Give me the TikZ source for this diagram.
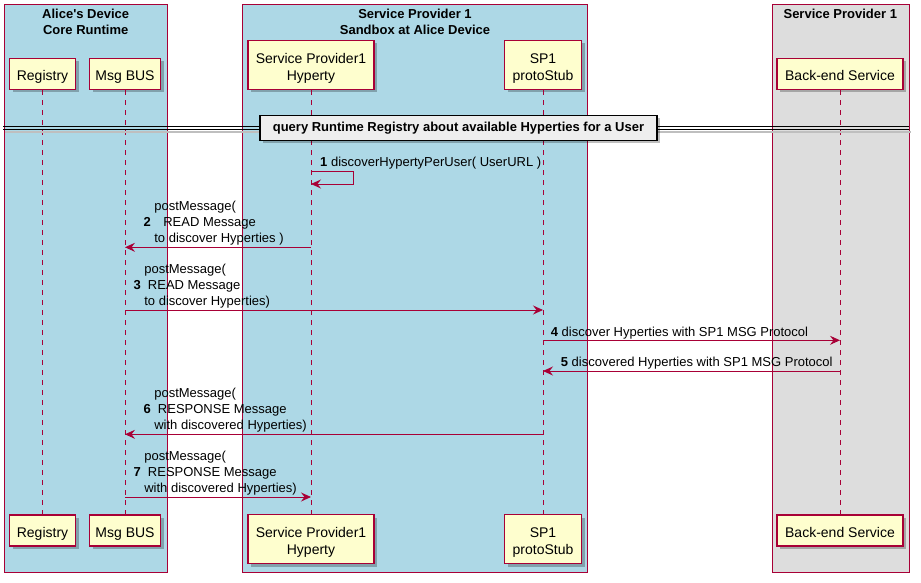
\documentclass[tikz,border=0pt]{standalone}
\usepackage{fontspec}
\setmainfont{Liberation Sans}
\usetikzlibrary{arrows.meta,shadows}
\definecolor{umlred}{HTML}{A80036}
\definecolor{umlyellow}{HTML}{FEFECE}
\definecolor{boxblue}{HTML}{ADD8E6}
\definecolor{boxgray}{HTML}{DDDDDD}
\definecolor{divgray}{HTML}{EEEEEE}

\begin{document}
\begin{tikzpicture}[x=1pt,y=-1pt,
    part/.style={draw=umlred,line width=1.2pt,fill=umlyellow,align=center,inner sep=0pt,
        font=\fontsize{14}{16.7}\selectfont,
        drop shadow={shadow xshift=3pt,shadow yshift=-3pt,fill=black,opacity=0.25}},
    grp/.style={draw=umlred,line width=0.8pt},
    ttl/.style={anchor=north,inner sep=0pt,align=center,font=\bfseries\fontsize{13}{16.3}\selectfont},
    life/.style={draw=umlred,line width=0.8pt,dash pattern=on 5pt off 5pt},
    msg/.style={draw=umlred,line width=0.9pt,-{Stealth[length=10pt,width=9pt,inset=3.5pt]}},
    lbl/.style={inner sep=0pt,align=left,font=\fontsize{13}{16}\selectfont},
    divbox/.style={draw=black,line width=1.2pt,fill=divgray,minimum width=397pt,minimum height=25pt,
        font=\bfseries\fontsize{13}{16}\selectfont,
        drop shadow={shadow xshift=3pt,shadow yshift=-3pt,fill=black,opacity=0.25}}]
    \useasboundingbox (0,0) rectangle (921,583);

    \draw[grp,fill=boxblue] (4,4) rectangle (167,572);
    \draw[grp,fill=boxblue] (242,4) rectangle (587.5,572);
    \draw[grp,fill=boxgray] (772,4) rectangle (909,572);
    \node[ttl] (g1) at (85.7,8.5) {Alice\textquotesingle s Device\\Core Runtime};
    \node[ttl] (g2) at (415,8.5) {Service Provider 1\\Sandbox at Alice Device};
    \node[ttl] (g3) at (840.3,8.5) {Service Provider 1};

    \node[part,minimum width=66pt,minimum height=31pt] (reg) at (42.5,74) {\rule[-2pt]{0pt}{18pt}Registry};
    \node[part,minimum width=71pt,minimum height=31pt] (bus) at (125,74) {\rule[-2pt]{0pt}{18pt}Msg BUS};
    \node[part,minimum width=126pt,minimum height=49pt] (hyp) at (311,65) {\rule{0pt}{16.6pt}Service Provider1\\Hyperty};
    \node[part,minimum width=77pt,minimum height=49pt] (stub) at (543,65) {\rule{0pt}{16.6pt}SP1\\protoStub};
    \node[part,minimum width=126pt,minimum height=31pt] (back) at (840,74) {\rule[-2pt]{0pt}{18pt}Back-end Service};

    \node[part,minimum width=66pt,minimum height=31pt] (regB) at (42.5,530.5) {\rule[-2pt]{0pt}{18pt}Registry};
    \node[part,minimum width=71pt,minimum height=31pt] (busB) at (125,530.5) {\rule[-2pt]{0pt}{18pt}Msg BUS};
    \node[part,minimum width=126pt,minimum height=49pt] (hypB) at (311,539) {\rule{0pt}{16.6pt}Service Provider1\\Hyperty};
    \node[part,minimum width=77pt,minimum height=49pt] (stubB) at (543,539) {\rule{0pt}{16.6pt}SP1\\protoStub};
    \node[part,minimum width=126pt,minimum height=31pt] (backB) at (840,530.5) {\rule[-2pt]{0pt}{18pt}Back-end Service};

    \draw[life] (reg) -- (regB);
    \draw[life] (bus) -- (busB);
    \draw[life] (hyp) -- (hypB);
    \draw[life] (stub) -- (stubB);
    \draw[life] (back) -- (backB);

    \draw[black!25,line width=2pt] (5,132) -- (911,132);
    \draw[black,line width=0.8pt] (3,126) -- (909,126) (3,129.5) -- (909,129.5);
    \node[divbox] (div) at (458.5,128) {query Runtime Registry about available Hyperties for a User};

    \draw[msg] (hyp |- 0,171) -- ++(42,0) -- ++(0,13) -- (hyp |- 0,184);
    \node[lbl,anchor=base west] (m1) at (320,166.5) {\textbf{1} discoverHypertyPerUser( UserURL )};

    \draw[msg] (hyp |- 0,247.3) -- (bus |- 0,247.3);
    \node[lbl,anchor=south west] (m2) at (143.3,245) {\hphantom{\textbf{2}\ }postMessage(\\\textbf{2}\ \hspace{9pt}READ Message\\\hphantom{\textbf{2}\ }to discover Hyperties )};

    \draw[msg] (bus |- 0,310) -- (stub |- 0,310);
    \node[lbl,anchor=south west] (m3) at (133.3,308.4) {\hphantom{\textbf{3}\ }postMessage(\\\textbf{3}\ \ READ Message\\\hphantom{\textbf{3}\ }to discover Hyperties)};

    \draw[msg] (stub |- 0,340.3) -- (back |- 0,340.3);
    \node[lbl,anchor=base west] (m4) at (550.7,336) {\textbf{4} discover Hyperties with SP1 MSG Protocol};

    \draw[msg] (back |- 0,371) -- (stub |- 0,371);
    \node[lbl,anchor=base west] (m5) at (560.7,366) {\textbf{5} discovered Hyperties with SP1 MSG Protocol};

    \draw[msg] (stub |- 0,434.3) -- (bus |- 0,434.3);
    \node[lbl,anchor=south west] (m6) at (143.3,432) {\hphantom{\textbf{6}\ }postMessage(\\\textbf{6}\ \ RESPONSE Message\\\hphantom{\textbf{6}\ }with discovered Hyperties)};

    \draw[msg] (bus |- 0,497) -- (hyp |- 0,497);
    \node[lbl,anchor=south west] (m7) at (133.3,495) {\hphantom{\textbf{7}\ }postMessage(\\\textbf{7}\ \ RESPONSE Message\\\hphantom{\textbf{7}\ }with discovered Hyperties)};
\end{tikzpicture}
\end{document}
